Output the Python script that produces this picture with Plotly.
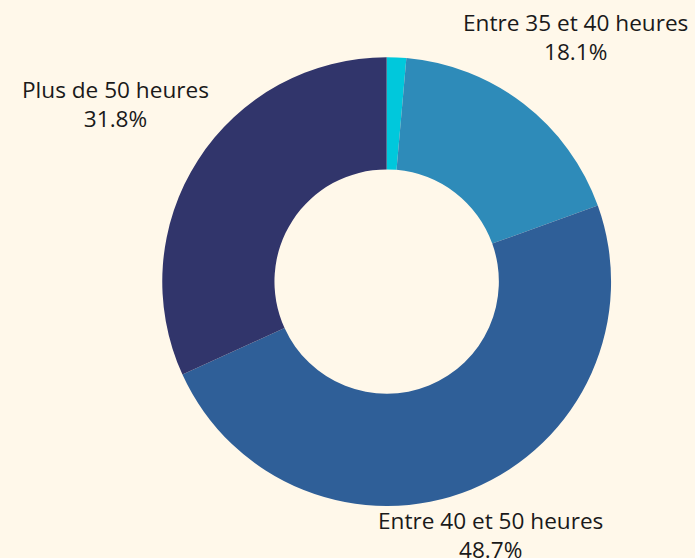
import plotly.graph_objects as go

categories = ["Moins de 35 heures", "Entre 35 et 40 heures", "Entre 40 et 50 heures", "Plus de 50 heures"]
values = [1.4, 18.1, 48.7, 31.8]
colors = ["#00C8DC", "#2E8BB9", "#2F5F98", "#31356B"]
show_label = [False, True, True, True]

# label placement (paper coordinates) for the labelled slices
label_x = [None, 0.8285, 0.7055, 0.1655]
label_y = [None, 0.934, 0.041, 0.8143]

fig = go.Figure(go.Pie(
    labels=categories,
    values=values,
    hole=0.5,
    sort=False,
    direction="clockwise",
    rotation=0,
    automargin=False,
    marker=dict(colors=colors, line=dict(width=0)),
    textinfo="none",
    domain=dict(x=[0.1967, 0.916], y=[0.0932, 0.8975]),
    showlegend=False,
))

total = sum(values)
for cat, val, show, lx, ly in zip(categories, values, show_label, label_x, label_y):
    if not show:
        continue
    fig.add_annotation(
        x=lx, y=ly, xref="paper", yref="paper",
        xanchor="center", yanchor="middle", align="center",
        showarrow=False,
        text=f"{cat}<br>{100 * val / total:.1f}%",
        font=dict(family="Open Sans", size=22.6, color="#1a1a1a"),
    )

fig.update_layout(
    width=695, height=558,
    margin=dict(l=0, r=0, t=0, b=0),
    paper_bgcolor="#FFF8EA",
    plot_bgcolor="#FFF8EA",
)

fig.write_html(
    "out.html",
    config={"displayModeBar": False},
    post_script="document.body.style.margin='0';document.body.style.overflow='hidden';document.body.style.background='#FFF8EA';",
)
